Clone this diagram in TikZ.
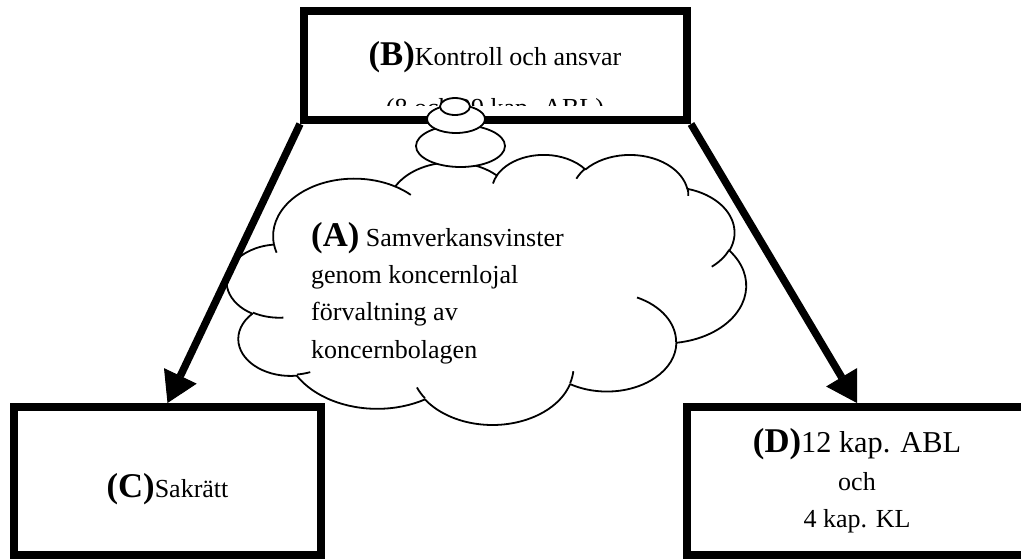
\documentclass[tikz,border=0pt]{standalone}
\usepackage{fontspec}
\setmainfont{Liberation Serif}
\usetikzlibrary{arrows.meta,positioning}

\newcommand\brodtext{\fontsize{26}{37.5}\selectfont}
\newcommand\etikett[1]{{\fontsize{34.7}{37.5}\selectfont\bfseries#1}}

% one bump of the cloud: x radius, y radius, start angle, sweep (degrees, y down)
\tikzset{
  puff/.style n args={4}{insert path={
    arc[start angle={-atan2(#1*sin(#3),#2*cos(#3))},
        delta angle={-mod(atan2(#1*sin(#3+#4),#2*cos(#3+#4))-atan2(#1*sin(#3),#2*cos(#3))+720,360)},
        x radius={#1*1.2014pt},y radius={#2*0.625pt}]}}
}

\begin{document}
\begin{tikzpicture}[x=1pt,y=-1pt,every node/.style={inner sep=0pt}]
  \tikzstyle{ruta}=[draw,line width=8pt,font=\brodtext,align=center]
  \tikzstyle{moln}=[draw,fill=white,line width=1.8pt,line join=round]
  \tikzstyle{pil}=[-{Triangle[length=30pt,width=36pt,line width=1pt]},line width=7.5pt]

  \fill[white] (0,0) rectangle (1021,558);
  \useasboundingbox (0,0) rectangle (1021,558);

  % -- (B) box at the top --
  \node[ruta,minimum width=383pt,minimum height=109pt] (kontroll) at (495.5,65.5) {};
  \node[font=\brodtext,anchor=base] (kontrolltext) at (495,65) {\etikett{(B)}Kontroll och ansvar};
  \begin{scope}
    \clip (308,15) rectangle (683,105);
    \node[font=\brodtext,anchor=base] (paragraf) at (495,116) {(8 och 29 kap. ABL)};
  \end{scope}

  % -- (A) cloud --
  \begin{scope}[shift={(227,154)},x=1.2014pt,y=-0.625pt]
    \draw[moln] (39,143.7)
      [puff={67.53}{91.90}{-190.48748}{123.78053}]
      [puff={53.33}{72.67}{-144.10238}{89.94523}]
      [puff={43.65}{59.45}{-145.80792}{99.72302}]
      [puff={48.57}{65.95}{-130.98607}{117.24173}]
      [puff={53.33}{72.73}{-78.70888}{109.02692}]
      [puff={67.75}{92.20}{-46.26725}{130.26900}]
      [puff={57.85}{78.67}{0.62502}{114.03333}]
      [puff={67.52}{92.15}{22.45160}{115.17255}]
      [puff={77.20}{105.43}{66.24263}{75.71102}]
      [puff={43.60}{59.18}{-274.94208}{146.73557}]
      [puff={43.45}{59.45}{-246.82850}{152.51885}] -- cycle;
    \draw[line width=1.8pt]
      (46.93,261.77) [puff={43.45}{59.45}{86.74200}{26.42950}]
      (69.28,348.99) [puff={43.60}{59.18}{73.61047}{11.44747}]
      (164.78,390.90) [puff={67.52}{92.15}{137.62415}{14.08110}]
      (288.27,347.51) [puff={67.52}{92.15}{6.45327}{15.99835}]
      (341.29,229.54) [puff={57.85}{78.67}{-70.29235}{70.91737}]
      (417.98,153.54) [puff={53.33}{72.73}{30.31803}{27.75150}]
      (383.24,54.26) [puff={48.57}{65.95}{-13.74433}{14.85890}]
      (290.78,39.52) [puff={48.57}{65.95}{-149.18145}{18.19537}]
      (221.41,47.20) [puff={43.65}{59.45}{-163.49427}{17.68635}]
      (140.00,51.92) [puff={67.53}{91.90}{-66.70695}{12.31935}]
      (41.27,157.89) [puff={67.53}{91.90}{157.65435}{11.85817}];
  \end{scope}
  \draw[moln] (460.5,146) ellipse [x radius=44.5pt,y radius=21pt];
  \draw[moln] (456,119) ellipse [x radius=29pt,y radius=14pt];
  \draw[moln] (455,106.5) ellipse [x radius=15pt,y radius=8.5pt];
  \node[font=\fontsize{26}{37.3}\selectfont,align=left,anchor=north west] (vinster) at (311,222)
    {\etikett{(A)} Samverkansvinster\\genom koncernlojal\\förvaltning av\\koncernbolagen};

  % -- (C) and (D) boxes --
  \node[ruta,minimum width=307pt,minimum height=148pt] (sakratt) at (167.5,481) {};
  \node[font=\brodtext,anchor=base] (sakratttext) at (167.5,497) {\etikett{(C)}Sakrätt};
  \node[ruta,minimum width=340pt,minimum height=148pt] (abl) at (857,481)
    {\etikett{(D)}{\fontsize{30.3}{37.5}\selectfont 12 kap. ABL}\\och\\4 kap. KL};

  % -- arrows --
  \draw[pil] (kontroll.south west) -- (sakratt.north);
  \draw[pil] (kontroll.south east) -- (abl.north);
\end{tikzpicture}
\end{document}
